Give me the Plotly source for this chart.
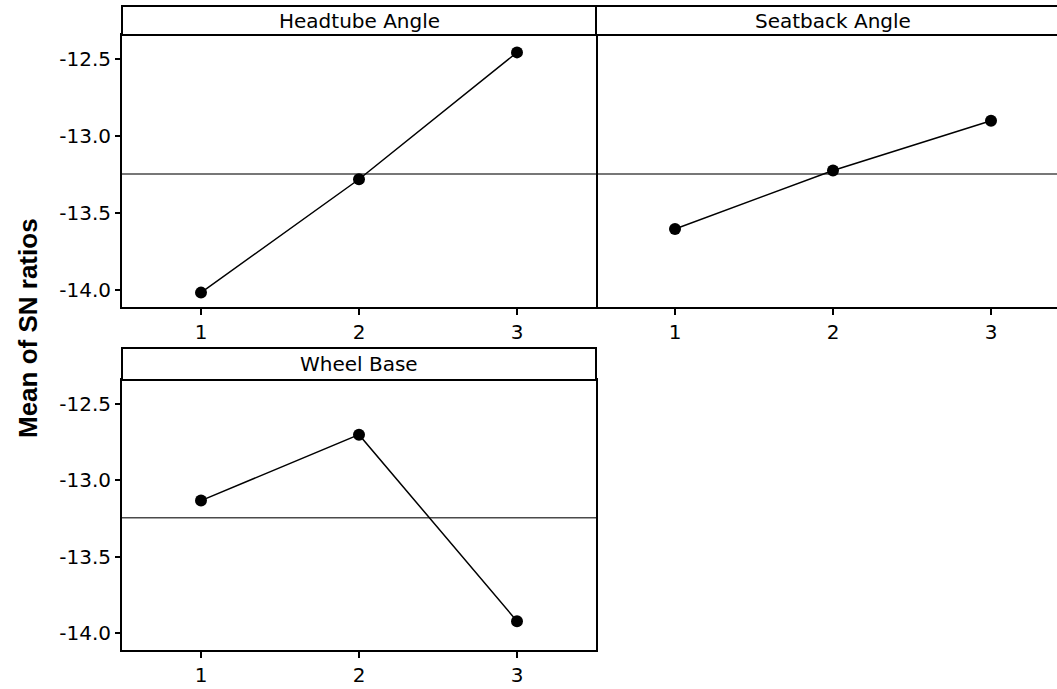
import plotly.graph_objects as go

levels = [1, 2, 3]
headtube = [-14.017, -13.28, -12.455]
seatback = [-13.603, -13.223, -12.90]
wheelbase = [-13.132, -12.70, -13.922]
panel_titles = ["Headtube Angle", "Seatback Angle", "Wheel Base"]
y_ticks = [-12.5, -13.0, -13.5, -14.0]
y_ticklabels = ["-12.5", "-13.0", "-13.5", "-14.0"]
overall_mean = -13.245

W, H = 1057, 689
def px(x): return x / W
def py(y): return 1 - y / H

FONT = "DejaVu Sans"
FS = 20
fig = go.Figure()

series = [headtube, seatback, wheelbase]
axes = [("x", "y"), ("x2", "y2"), ("x3", "y3")]
for s, (xa, ya) in zip(series, axes):
    fig.add_trace(go.Scatter(
        x=levels, y=s, xaxis=xa, yaxis=ya, mode="lines+markers",
        line=dict(color="black", width=1.5),
        marker=dict(color="black", size=12),
        showlegend=False, hoverinfo="skip"))

# mean reference lines
for xa, ya in axes:
    fig.add_shape(type="line", xref=f"{xa} domain", yref=ya,
                  x0=0, x1=1, y0=overall_mean, y1=overall_mean,
                  line=dict(color="#4a4a4a", width=1.5), layer="below")

yr = [-14.1105, -12.342]
common_x = dict(tickvals=levels, ticktext=["1", "2", "3"], ticks="outside",
                ticklen=6, tickwidth=1.5, tickcolor="black",
                showgrid=False, zeroline=False, showline=True,
                linecolor="black", linewidth=2,
                tickfont=dict(family=FONT, size=FS, color="black"))
common_y = dict(range=yr, showgrid=False, zeroline=False,
                linecolor="black", linewidth=2,
                tickfont=dict(family=FONT, size=FS, color="black"))

top_dom = [py(307), py(35)]
bot_dom = [py(650), py(380)]
left_dom = [px(122), px(596)]
right_dom = [px(596), 1.0]

fig.update_layout(
    width=W, height=H, margin=dict(l=0, r=0, t=0, b=0),
    paper_bgcolor="white", plot_bgcolor="white",
    xaxis=dict(domain=left_dom, range=[0.5, 3.5], anchor="y", mirror=True, **common_x),
    yaxis=dict(domain=top_dom, anchor="x", mirror=True, showline=True, tickvals=y_ticks,
               ticktext=y_ticklabels, ticks="outside", ticklen=5, tickwidth=1.5,
               tickcolor="black", **common_y),
    xaxis2=dict(domain=right_dom, range=[0.5, 0.5 + (W - 596) / 158.0],
                anchor="y2", mirror=True, **common_x),
    yaxis2=dict(domain=top_dom, anchor="x2", showline=False, showticklabels=False,
                ticks="", **common_y),
    xaxis3=dict(domain=left_dom, range=[0.5, 3.5], anchor="y3", mirror=True, **common_x),
    yaxis3=dict(domain=bot_dom, anchor="x3", mirror=True, showline=True, tickvals=y_ticks,
                ticktext=y_ticklabels, ticks="outside", ticklen=5, tickwidth=1.5,
                tickcolor="black", **common_y),
)

# strips
strips = [
    (px(122), px(596), py(35), py(6), panel_titles[0]),
    (px(596), px(1075), py(35), py(6), panel_titles[1]),
    (px(122), px(596), py(380), py(348), panel_titles[2]),
]
for x0, x1, y0, y1, t in strips:
    fig.add_shape(type="rect", xref="paper", yref="paper", x0=x0, x1=x1, y0=y0, y1=y1,
                  line=dict(color="black", width=2), fillcolor="white")
    xc = (x0 + min(x1, px(1070))) / 2
    fig.add_annotation(x=xc, y=(y0 + y1) / 2, xref="paper", yref="paper", text=t,
                       showarrow=False, font=dict(family=FONT, size=FS, color="black"),
                       xanchor="center", yanchor="middle")

fig.add_annotation(x=px(28), y=py(328), xref="paper", yref="paper",
                   text="<b>Mean of SN ratios</b>", textangle=-90, showarrow=False,
                   font=dict(family="Liberation Sans", size=26, color="black"),
                   xanchor="center", yanchor="middle")

fig.write_html("out.html")
